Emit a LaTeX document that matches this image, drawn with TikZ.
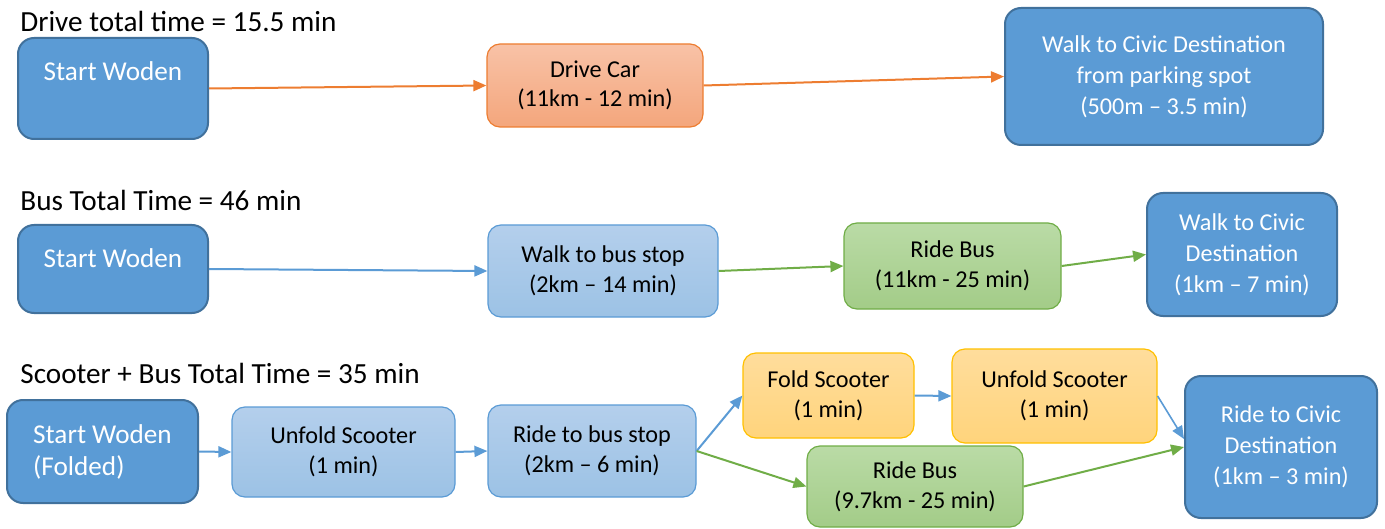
\documentclass[tikz,border=0pt]{standalone}
\usepackage{fontspec}
\setmainfont{Carlito}
\usetikzlibrary{arrows.meta}

\definecolor{stblue}{HTML}{5B9BD5}
\definecolor{stedge}{HTML}{41719C}
\definecolor{lbtop}{HTML}{B4CFEC}
\definecolor{lbbot}{HTML}{9CC2E5}
\definecolor{grtop}{HTML}{BADBA6}
\definecolor{grbot}{HTML}{A3CC88}
\definecolor{grline}{HTML}{70AD47}
\definecolor{ortop}{HTML}{F8C2A7}
\definecolor{orbot}{HTML}{F4A67C}
\definecolor{orline}{HTML}{ED7D31}
\definecolor{yetop}{HTML}{FFDD9C}
\definecolor{yebot}{HTML}{FFD47C}
\definecolor{yeline}{HTML}{FFC000}

\begin{document}
\begin{tikzpicture}[x=0.5pt, y=-0.5pt, >={Triangle[length=6.5pt,width=5.5pt]},
  title/.style={anchor=base west, inner sep=0pt, font=\fontsize{14.6}{17}\selectfont},
  startbox/.style={draw=stedge, line width=1pt, fill=stblue, text=white,
    rounded corners=8pt, align=center, font=\fontsize{12.1}{15.5}\selectfont},
  homebox/.style={startbox, font=\fontsize{13.6}{16}\selectfont},
  stepbox/.style={line width=0.6pt, rounded corners=6.5pt, align=center,
    font=\fontsize{12.1}{14.8}\selectfont},
  walkbox/.style={stepbox, draw=stblue, top color=lbtop, bottom color=lbbot},
  busbox/.style={stepbox, draw=grline, top color=grtop, bottom color=grbot},
  carbox/.style={stepbox, draw=orline, top color=ortop, bottom color=orbot},
  foldbox/.style={stepbox, draw=yeline, top color=yetop, bottom color=yebot},
  link/.style={->, line width=1pt}
]
\useasboundingbox (0,0) rectangle (1385,529);

% --- Drive ---
\node[title] (tdrive) at (20,32) {Drive total time = 15.5 min};
\node[homebox, minimum width=95pt, minimum height=50.5pt, text depth=17.5pt]
  (sw1) at (113,88.5) {Start Woden};
\node[carbox, minimum width=108pt, minimum height=41.5pt]
  (car) at (595,85.5) {Drive Car\\(11km - 12 min)};
\node[startbox, minimum width=159pt, minimum height=68.5pt]
  (wc1) at (1164,76.5) {Walk to Civic Destination\\from parking spot\\(500m -- 3.5 min)};

\draw[link, orline] (sw1.east) -- (car.west);
\draw[link, orline] (car.east) -- (wc1.west);

% --- Bus ---
\node[title] (tbus) at (20,211) {Bus Total Time = 46 min};
\node[homebox, minimum width=95pt, minimum height=44pt, text depth=11pt]
  (sw2) at (113,269) {Start Woden};
\node[walkbox, minimum width=115pt, minimum height=46pt]
  (wb) at (603,271) {Walk to bus stop\\(2km -- 14 min)};
\node[busbox, minimum width=108.5pt, minimum height=43pt]
  (bus1) at (952.5,266) {Ride Bus\\(11km - 25 min)};
\node[startbox, minimum width=95pt, minimum height=61.5pt]
  (wc2) at (1242,254.5) {Walk to Civic\\Destination\\(1km -- 7 min)};

\draw[link, stblue] (sw2.east) -- (wb.west);
\draw[link, grline] (wb.east) -- (bus1.west);
\draw[link, grline] (bus1.east) -- (wc2.west);

% --- Scooter + Bus ---
\node[title] (tscoot) at (20,383) {Scooter + Bus Total Time = 35 min};
\node[homebox, align=left, minimum width=95.5pt, minimum height=51.5pt]
  (sw3) at (102.5,451.5) {Start Woden\\(Folded)};
\node[walkbox, minimum width=111.5pt, minimum height=45pt]
  (uf1) at (343.5,452) {Unfold Scooter\\(1 min)};
\node[walkbox, minimum width=104pt, minimum height=46pt]
  (rb) at (592,451) {Ride to bus stop\\(2km -- 6 min)};
\node[foldbox, minimum width=85.5pt, minimum height=42.5pt]
  (fold) at (828.5,395.5) {Fold Scooter\\(1 min)};
\node[foldbox, minimum width=102.5pt, minimum height=47pt]
  (uf2) at (1054.5,396) {Unfold Scooter\\(1 min)};
\node[busbox, minimum width=108pt, minimum height=40.5pt]
  (bus2) at (915,486.5) {Ride Bus\\(9.7km - 25 min)};
\node[startbox, minimum width=96pt, minimum height=71pt]
  (rc) at (1281,447) {Ride to Civic\\Destination\\(1km -- 3 min)};

\draw[link, stblue] (sw3.east) -- (uf1.west);
\draw[link, stblue] (uf1.east) -- (rb.west);
\draw[link, stblue] (rb.east) -- (fold.west);
\draw[link, grline] (rb.east) -- (bus2.west);
\draw[link, stblue] (fold.east) -- (uf2.west);
\draw[link, stblue, line width=0.8pt] (uf2.east) -- ([yshift=4pt]rc.west);
\draw[link, grline] (bus2.east) -- (rc.west);

\end{tikzpicture}
\end{document}
